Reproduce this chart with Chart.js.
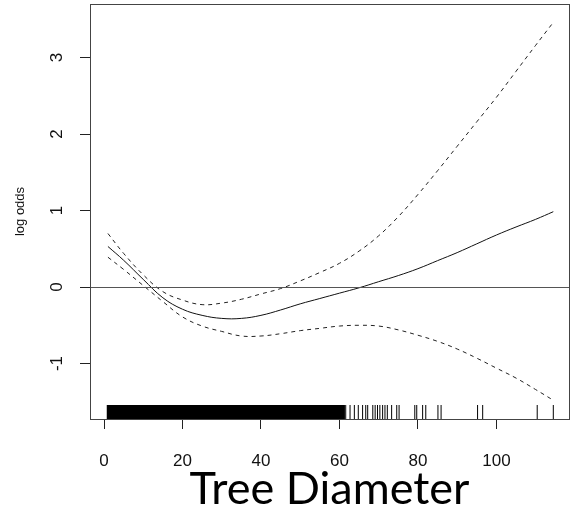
<!DOCTYPE html>
<html>

<head>
    <title>Tree Diameter - log odds</title>
    <script src="https://cdn.jsdelivr.net/npm/chart.js"></script>
    <style>
        body {
            margin: 0;
            background-color: #fff;
        }

        #wrap {
            width: 571px;
            height: 508px;
        }
    </style>
</head>

<body>
    <div id="wrap">
        <canvas id="gamChart"></canvas>
    </div>

    <script>
        // smooth term for tree diameter
        const diameter = [1, 5, 10, 15, 20, 25, 30, 35, 40, 45, 50, 55, 60, 65, 70, 75, 80, 85, 90, 95, 100, 105, 110, 114.5];
        const fitted = [0.53, 0.35, 0.10, -0.14, -0.29, -0.37, -0.41, -0.41, -0.37, -0.30, -0.22, -0.15, -0.08, -0.01, 0.07, 0.15, 0.24, 0.345, 0.45, 0.565, 0.68, 0.785, 0.885, 0.985];
        const upperBand = [0.70, 0.44, 0.16, -0.06, -0.17, -0.23, -0.21, -0.16, -0.09, -0.02, 0.08, 0.19, 0.31, 0.47, 0.67, 0.92, 1.21, 1.52, 1.84, 2.16, 2.48, 2.82, 3.16, 3.46];
        const lowerBand = [0.39, 0.23, 0.02, -0.19, -0.39, -0.51, -0.58, -0.64, -0.64, -0.61, -0.57, -0.54, -0.51, -0.50, -0.51, -0.56, -0.63, -0.71, -0.81, -0.93, -1.06, -1.19, -1.34, -1.48];

        const xTickLabels = [0, 20, 40, 60, 80, 100];
        const yTickLabels = [-1, 0, 1, 2, 3];

        // rug: observations are so dense up to ~61 that they form a solid block
        const rugDense = [0.7, 61.4];
        const rugSparse = [61.6, 62.7, 63.8, 64.8, 65.9, 66.7, 67.2, 68.5, 69.1, 69.7, 70.3, 71.0, 71.6, 72.2, 73.3, 74.6, 75.2,
            79.2, 79.7, 81.2, 82.0, 85.1, 85.9, 95.2, 96.5, 110.4, 114.5];

        function toPoints(values) {
            return diameter.map((d, i) => ({ x: d, y: values[i] }));
        }

        // zero line, rug and the box round the plot
        const extras = {
            id: 'extras',
            afterDatasetsDraw(chart) {
                const { ctx, chartArea: a, scales: { x, y } } = chart;
                ctx.save();
                ctx.lineWidth = 1;

                const y0 = Math.round(y.getPixelForValue(0)) + 0.5;
                ctx.strokeStyle = '#555';
                ctx.beginPath();
                ctx.moveTo(a.left, y0);
                ctx.lineTo(a.right, y0);
                ctx.stroke();

                const rugTop = a.bottom - 14;
                const x1 = x.getPixelForValue(rugDense[0]);
                const x2 = x.getPixelForValue(rugDense[1]);
                ctx.fillStyle = '#000';
                ctx.fillRect(x1, rugTop, x2 - x1, 14);
                ctx.strokeStyle = '#000';
                rugSparse.forEach(v => {
                    const px = x.getPixelForValue(v);
                    ctx.beginPath();
                    ctx.moveTo(px, rugTop);
                    ctx.lineTo(px, a.bottom);
                    ctx.stroke();
                });

                ctx.strokeStyle = '#444';
                ctx.strokeRect(a.left + 0.5, a.top + 0.5, a.right - a.left, a.bottom - a.top);
                ctx.restore();
            }
        };

        const tickFont = { family: 'Liberation Sans', size: 17 };

        const ctx = document.getElementById('gamChart').getContext('2d');
        const gamChart = new Chart(ctx, {
            type: 'line',
            data: {
                datasets: [{
                    label: 'fit',
                    data: toPoints(fitted),
                    borderColor: '#111',
                    borderWidth: 1,
                    pointRadius: 0,
                    tension: 0.4,
                    fill: false,
                }, {
                    label: 'upper',
                    data: toPoints(upperBand),
                    borderColor: '#222',
                    borderWidth: 1,
                    borderDash: [4, 4],
                    pointRadius: 0,
                    tension: 0.4,
                    fill: false,
                }, {
                    label: 'lower',
                    data: toPoints(lowerBand),
                    borderColor: '#222',
                    borderWidth: 1,
                    borderDash: [4, 4],
                    pointRadius: 0,
                    tension: 0.4,
                    fill: false,
                }]
            },
            options: {
                responsive: true,
                maintainAspectRatio: false,
                animation: false,
                layout: { padding: { top: 4, right: 2, left: 0, bottom: 0 } },
                plugins: {
                    legend: { display: false },
                    tooltip: { enabled: false }
                },
                scales: {
                    x: {
                        type: 'linear',
                        min: -3.57,
                        max: 118.5,
                        afterBuildTicks: s => { s.ticks = xTickLabels.map(v => ({ value: v })); },
                        afterFit: s => { s.height = 89; s.paddingLeft = 0; s.paddingRight = 0; },
                        border: { display: false },
                        grid: { drawOnChartArea: false, tickLength: 10, color: '#222' },
                        ticks: { font: tickFont, color: '#111', padding: 22, maxRotation: 0, autoSkip: false },
                        title: {
                            display: true,
                            text: 'Tree Diameter',
                            color: '#000',
                            font: { family: 'Lato', size: 45, lineHeight: 0.84 },
                            padding: { top: 0, bottom: 0 }
                        }
                    },
                    y: {
                        min: -1.725,
                        max: 3.70,
                        afterBuildTicks: s => { s.ticks = yTickLabels.map(v => ({ value: v })); },
                        afterFit: s => { s.width = 90; s.paddingTop = 0; s.paddingBottom = 0; },
                        border: { display: false },
                        grid: { drawOnChartArea: false, tickLength: 10, color: '#222' },
                        ticks: { font: tickFont, color: '#111', padding: 15, minRotation: 90, maxRotation: 90, crossAlign: 'center' },
                        title: {
                            display: true,
                            text: 'log odds',
                            color: '#111',
                            font: { family: 'Liberation Sans', size: 13 },
                            padding: { top: 13, bottom: 0 }
                        }
                    }
                }
            },
            plugins: [extras]
        });
    </script>
</body>

</html>
